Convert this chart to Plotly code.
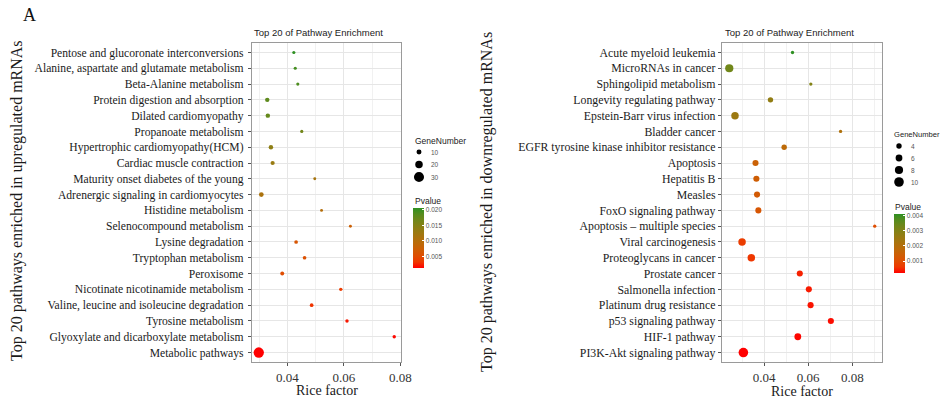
import plotly.graph_objects as go

# ---------------- DATA ----------------
up_pathways = [
    "Pentose and glucoronate interconversions",
    "Alanine, aspartate and glutamate metabolism",
    "Beta-Alanine metabolism",
    "Protein digestion and absorption",
    "Dilated cardiomyopathy",
    "Propanoate metabolism",
    "Hypertrophic cardiomyopathy(HCM)",
    "Cardiac muscle contraction",
    "Maturity onset diabetes of the young",
    "Adrenergic signaling in cardiomyocytes",
    "Histidine metabolism",
    "Selenocompound metabolism",
    "Lysine degradation",
    "Tryptophan metabolism",
    "Peroxisome",
    "Nicotinate nicotinamide metabolism",
    "Valine, leucine and isoleucine degradation",
    "Tyrosine metabolism",
    "Glyoxylate and dicarboxylate metabolism",
    "Metabolic pathways",
]
up_rich = [0.0423, 0.0428, 0.0437, 0.0329, 0.0331, 0.0451, 0.0342, 0.0348, 0.0497, 0.0308,
           0.0521, 0.0623, 0.0431, 0.0461, 0.0382, 0.0589, 0.0486, 0.0611, 0.0778, 0.0299]
up_genes = [3, 3, 3, 8, 8, 3, 8, 7, 2, 9, 2, 2, 5, 5, 6, 4, 5, 4, 4, 31]
up_pvalue = [0.0206, 0.0195, 0.0190, 0.0180, 0.0175, 0.0165, 0.0140, 0.0130, 0.0115, 0.0110,
             0.0100, 0.0075, 0.0060, 0.0055, 0.0050, 0.0035, 0.0030, 0.0020, 0.0015, 0.0012]

down_pathways = [
    "Acute myeloid leukemia",
    "MicroRNAs in cancer",
    "Sphingolipid metabolism",
    "Longevity regulating pathway",
    "Epstein-Barr virus infection",
    "Bladder cancer",
    "EGFR tyrosine kinase inhibitor resistance",
    "Apoptosis",
    "Hepatitis B",
    "Measles",
    "FoxO signaling pathway",
    "Apoptosis \u2013 multiple species",
    "Viral carcinogenesis",
    "Proteoglycans in cancer",
    "Prostate cancer",
    "Salmonella infection",
    "Platinum drug resistance",
    "p53 signaling pathway",
    "HIF-1 pathway",
    "PI3K-Akt signaling pathway",
]
down_rich = [0.0529, 0.0242, 0.0612, 0.0429, 0.0268, 0.0747, 0.0491, 0.0361, 0.0365, 0.0368,
             0.0374, 0.0902, 0.0300, 0.0342, 0.0562, 0.0603, 0.0611, 0.0703, 0.0553, 0.0306]
down_genes = [1, 8, 1, 4, 7, 1, 4, 5, 5, 5, 5, 1, 7, 7, 5, 5, 5, 5, 6, 10]
down_pvalue = [0.0041, 0.0033, 0.0030, 0.0027, 0.0025, 0.0021, 0.0018, 0.0015, 0.0014, 0.0013,
               0.0012, 0.0010, 0.0007, 0.0006, 0.00045, 0.0004, 0.00035, 0.0003, 0.00026, 0.00022]

up_size_breaks = [10, 20, 30]
down_size_breaks = [4, 6, 8, 10]
up_p_ticks = [0.005, 0.010, 0.015, 0.020]
down_p_ticks = [0.001, 0.002, 0.003, 0.004]
x_ticks = [0.02, 0.04, 0.06, 0.08]

# ---------------- STYLE HELPERS ----------------
W, H = 942, 405


def px(x):
    return x / W


def py(y):
    return 1 - y / H


def _lin(c):
    c = c / 255.0
    return c / 12.92 if c <= 0.04045 else ((c + 0.055) / 1.055) ** 2.4


def _gam(c):
    c = 12.92 * c if c <= 0.0031308 else 1.055 * c ** (1 / 2.4) - 0.055
    return max(0, min(255, round(c * 255)))


def hex2lab(h):
    r, g, b = (_lin(int(h[i:i + 2], 16)) for i in (1, 3, 5))
    X = (0.4124 * r + 0.3576 * g + 0.1805 * b) / 0.95047
    Y = (0.2126 * r + 0.7152 * g + 0.0722 * b)
    Z = (0.0193 * r + 0.1192 * g + 0.9505 * b) / 1.08883
    f = lambda t: t ** (1 / 3) if t > 0.008856 else 7.787 * t + 16 / 116
    fx, fy, fz = f(X), f(Y), f(Z)
    return 116 * fy - 16, 500 * (fx - fy), 200 * (fy - fz)


def lab2hex(L, a, b):
    fy = (L + 16) / 116
    fx = fy + a / 500
    fz = fy - b / 200
    fi = lambda t: t ** 3 if t ** 3 > 0.008856 else (t - 16 / 116) / 7.787
    X, Y, Z = fi(fx) * 0.95047, fi(fy), fi(fz) * 1.08883
    r = 3.2406 * X - 1.5372 * Y - 0.4986 * Z
    g = -0.9689 * X + 1.8758 * Y + 0.0415 * Z
    bb = 0.0557 * X - 0.2040 * Y + 1.0570 * Z
    return "#%02x%02x%02x" % (_gam(r), _gam(g), _gam(bb))


low_lab = hex2lab("#ff0000")
high_lab = hex2lab("#2e9022")
colorscale = []
for i in range(11):
    t = i / 10
    colorscale.append([t, lab2hex(*[lo + (hi - lo) * t for lo, hi in zip(low_lab, high_lab)])])


def up_size(v):
    return 2.4 + 0.255 * v


def down_size(v):
    return 2.6 + 0.7 * v


def xrange(vals):
    lo, hi = min(vals), max(vals)
    s = hi - lo
    return [lo - 0.05 * s, hi + 0.05 * s]


serif = "Liberation Serif"
sans = "Liberation Sans"
grid_major = "#e6e6e6"
grid_minor = "#f1f1f1"
border = "#9a9a9a"

fig = go.Figure()

fig.add_trace(go.Scatter(
    x=up_rich, y=up_pathways, mode="markers", xaxis="x", yaxis="y",
    marker=dict(size=[up_size(v) for v in up_genes], color=up_pvalue,
                coloraxis="coloraxis", line=dict(width=0), opacity=1),
    showlegend=False, hoverinfo="x+y",
))
fig.add_trace(go.Scatter(
    x=down_rich, y=down_pathways, mode="markers", xaxis="x2", yaxis="y2",
    marker=dict(size=[down_size(v) for v in down_genes], color=down_pvalue,
                coloraxis="coloraxis2", line=dict(width=0), opacity=1),
    showlegend=False, hoverinfo="x+y",
))

L_X0, L_X1 = 252, 401
R_X0, R_X1 = 722, 882
Y0, Y1 = 43, 362

axis_common = dict(
    showline=True, mirror=True, linecolor=border, linewidth=1.3,
    ticks="outside", ticklen=3, tickcolor="#555", tickwidth=1,
    zeroline=False, automargin=False,
)

fig.update_layout(
    width=W, height=H, margin=dict(l=0, r=0, t=0, b=0, autoexpand=False),
    paper_bgcolor="white", plot_bgcolor="white",
    xaxis=dict(domain=[px(L_X0), px(L_X1)], anchor="y", range=xrange(up_rich),
               tickvals=x_ticks, ticktext=["%.2f" % v for v in x_ticks],
               showgrid=True, gridcolor=grid_major, gridwidth=1,
               minor=dict(dtick=0.01, tick0=0, showgrid=True, gridcolor=grid_minor, gridwidth=0.7, ticks=""),
               tickfont=dict(family=serif, size=13, color="#333"), **axis_common),
    yaxis=dict(domain=[py(Y1), py(Y0)], anchor="x", type="category",
               categoryorder="array", categoryarray=up_pathways,
               range=[len(up_pathways) - 0.4, -0.6],
               showgrid=True, gridcolor=grid_major, gridwidth=1, ticklabelstandoff=2,
               tickfont=dict(family=serif, size=11.6, color="#1a1a1a"), **axis_common),
    xaxis2=dict(domain=[px(R_X0), px(R_X1)], anchor="y2", range=xrange(down_rich),
                tickvals=x_ticks, ticktext=["%.2f" % v for v in x_ticks],
                showgrid=True, gridcolor=grid_major, gridwidth=1,
                minor=dict(dtick=0.01, tick0=0, showgrid=True, gridcolor=grid_minor, gridwidth=0.7, ticks=""),
                tickfont=dict(family=serif, size=13, color="#333"), **axis_common),
    yaxis2=dict(domain=[py(Y1), py(Y0)], anchor="x2", type="category",
                categoryorder="array", categoryarray=down_pathways,
                range=[len(down_pathways) - 0.4, -0.6],
                showgrid=True, gridcolor=grid_major, gridwidth=1,
                tickfont=dict(family=serif, size=11.8, color="#1a1a1a"), **axis_common),
    coloraxis=dict(
        cmin=min(up_pvalue), cmax=max(up_pvalue), colorscale=colorscale,
        colorbar=dict(x=px(413), xanchor="left", y=py(208), yanchor="top",
                      len=60, lenmode="pixels", thickness=11, thicknessmode="pixels",
                      xpad=0, ypad=0, outlinewidth=0,
                      tickvals=up_p_ticks, ticktext=["%.3f" % v for v in up_p_ticks],
                      ticks="inside", ticklen=2, tickcolor="white",
                      tickfont=dict(family=sans, size=6.5, color="#555")),
    ),
    coloraxis2=dict(
        cmin=min(down_pvalue), cmax=max(down_pvalue), colorscale=colorscale,
        colorbar=dict(x=px(894), xanchor="left", y=py(214), yanchor="top",
                      len=59, lenmode="pixels", thickness=11, thicknessmode="pixels",
                      xpad=0, ypad=0, outlinewidth=0,
                      tickvals=down_p_ticks, ticktext=["%.3f" % v for v in down_p_ticks],
                      ticks="inside", ticklen=2, tickcolor="white",
                      tickfont=dict(family=sans, size=6.5, color="#555")),
    ),
)

ann = []


def text(x, y, s, size, family, color="#1a1a1a", angle=0, xanchor="center", yanchor="middle"):
    ann.append(dict(x=px(x), y=py(y), xref="paper", yref="paper", text=s, showarrow=False,
                    font=dict(family=family, size=size, color=color), textangle=angle,
                    xanchor=xanchor, yanchor=yanchor))


text(29, 15, "A", 18, serif, "#111")
text(L_X0, 32, "Top 20 of Pathway Enrichment", 9.5, sans, "#222", xanchor="left")
text(R_X0 + 1, 32, "Top 20 of Pathway Enrichment", 9.5, sans, "#222", xanchor="left")
text(17, 201, "Top 20 pathways enriched in upregulated mRNAs", 16, serif, "#1a1a1a", angle=-90)
text(487, 202, "Top 20 pathways enriched in downregulated mRNAs", 16, serif, "#1a1a1a", angle=-90)
text((L_X0 + L_X1) / 2, 390, "Rice factor", 14, serif)
text((R_X0 + R_X1) / 2, 391, "Rice factor", 14, serif)

# legends
text(413, 141, "GeneNumber", 8.5, sans, "#222", xanchor="left")
text(413, 201, "Pvalue", 8.5, sans, "#222", xanchor="left")
text(892, 135, "GeneNumber", 7.6, sans, "#222", xanchor="left")
text(893, 207, "Pvalue", 8.5, sans, "#222", xanchor="left")

shapes = []


def key(x, y, d):
    shapes.append(dict(type="circle", xref="paper", yref="paper", xsizemode="pixel", ysizemode="pixel",
                       xanchor=px(x), yanchor=py(y), x0=-d / 2, x1=d / 2, y0=-d / 2, y1=d / 2,
                       fillcolor="black", line=dict(width=0)))


for i, v in enumerate(up_size_breaks):
    yy = 152 + i * 12.5
    key(419, yy, up_size(v))
    text(429, yy, str(v), 6.5, sans, "#555", xanchor="left")

for i, v in enumerate(down_size_breaks):
    yy = 146 + i * 12
    key(899, yy, down_size(v))
    text(909, yy, str(v), 6.5, sans, "#555", xanchor="left")

fig.update_layout(annotations=ann, shapes=shapes)

fig.write_html("out.html")
